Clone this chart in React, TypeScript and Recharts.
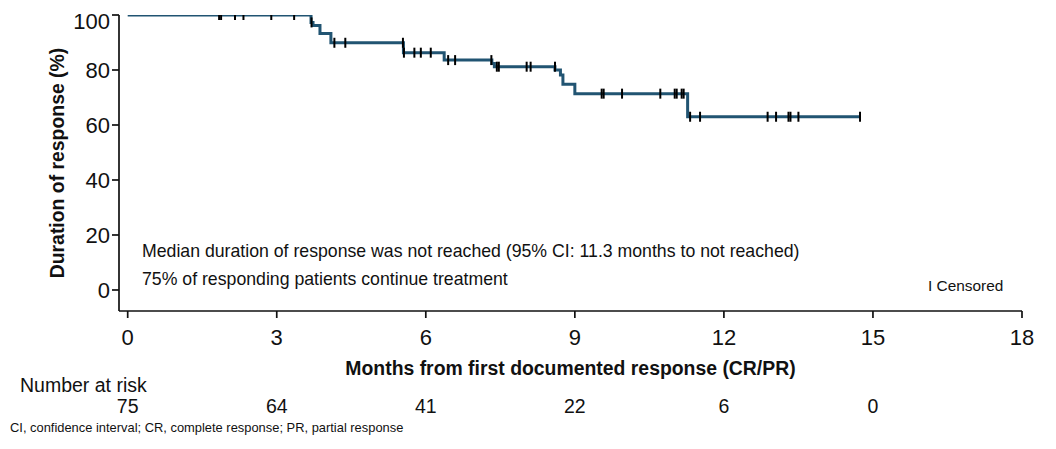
import React from 'react';
import { ComposedChart, Line, Scatter, XAxis, YAxis, Label } from 'recharts';

// Kaplan-Meier step points (months, % still in response)
const eventTimes = [0, 3.69, 3.73, 3.87, 4.09, 5.55, 6.37, 7.33, 7.38, 8.6, 8.71, 8.76, 9.0, 11.27, 14.74];
const survival = [100, 97.3, 96.2, 93.3, 89.9, 86.3, 83.6, 82.4, 81.2, 80.0, 78.2, 74.8, 71.4, 63.0, 63.0];

// censored observations
const censorTimes = [
  1.84, 1.88, 2.16, 2.33, 2.89, 3.35, 3.7, 4.16, 4.38, 5.54, 5.56, 5.77, 5.9, 6.1, 6.45, 6.59,
  7.32, 7.43, 7.47, 8.03, 8.11, 8.6, 9.54, 9.58, 9.95, 10.72, 11.01, 11.05, 11.15, 11.19,
  11.32, 11.52, 12.88, 13.05, 13.3, 13.34, 13.5, 14.74,
];
const censorValues = [
  100, 100, 100, 100, 100, 100, 97.3, 89.9, 89.9, 89.9, 86.3, 86.3, 86.3, 86.3, 83.6, 83.6,
  83.6, 81.2, 81.2, 81.2, 81.2, 81.2, 71.4, 71.4, 71.4, 71.4, 71.4, 71.4, 71.4, 71.4,
  63.0, 63.0, 63.0, 63.0, 63.0, 63.0, 63.0, 63.0,
];

const xTicks = [0, 3, 6, 9, 12, 15, 18];
const yTicks = [0, 20, 40, 60, 80, 100];
const riskTimes = [0, 3, 6, 9, 12, 15];
const riskCounts = [75, 64, 41, 22, 6, 0];

const curve = eventTimes.map((t, i) => ({ t, s: survival[i] }));
const censors = censorTimes.map((t, i) => ({ t, s: censorValues[i] }));

const FONT = '"Liberation Sans", Arial, sans-serif';
const LINE = '#215472';
const AXIS = '#111';

const CensorMark = (props: any) => {
  const { cx, cy } = props;
  return <line x1={cx} x2={cx} y1={cy - 5} y2={cy + 5} stroke="#000" strokeWidth={2} />;
};

export default function App() {
  return (
    <div style={{ position: 'relative', width: 1040, height: 441, fontFamily: FONT }}>
      <ComposedChart width={1040} height={441} margin={{ top: 7, right: 26, left: 0, bottom: 28 }}>
        <XAxis
          xAxisId="main"
          dataKey="t"
          type="number"
          domain={[-0.175, 18]}
          ticks={xTicks}
          allowDataOverflow
          height={70}
          tickSize={7}
          tickMargin={11}
          stroke={AXIS}
          strokeWidth={1.7}
          tick={{ fontSize: 22, fill: '#111', fontFamily: FONT }}
        >
          <Label
            content={(p: any) => {
              const { x, y, width } = p.viewBox;
              return (
                <text x={x + width / 2} y={y + 64} textAnchor="middle" fontSize={19.4} fontWeight="bold" fill="#111" fontFamily={FONT}>
                  Months from first documented response (CR/PR)
                </text>
              );
            }}
          />
        </XAxis>
        <XAxis
          xAxisId="risk"
          dataKey="t"
          type="number"
          domain={[-0.175, 18]}
          ticks={riskTimes}
          allowDataOverflow
          height={40}
          axisLine={false}
          tickLine={false}
          tickSize={0}
          tickMargin={18}
          tickFormatter={(v: number) => String(riskCounts[riskTimes.indexOf(v)])}
          tick={{ fontSize: 19.5, fill: '#111', fontFamily: FONT }}
        />
        <YAxis
          dataKey="s"
          type="number"
          domain={[-7.64, 100]}
          ticks={yTicks}
          allowDataOverflow
          width={111}
          tickSize={7}
          tickMargin={2}
          stroke={AXIS}
          strokeWidth={1.7}
          tick={{ fontSize: 22, fill: '#111', fontFamily: FONT }}
        >
          <Label
            content={(p: any) => {
              const { y, height } = p.viewBox;
              const cx = 49;
              const cy = y + height / 2;
              return (
                <text
                  x={cx}
                  y={cy}
                  transform={`rotate(-90 ${cx} ${cy})`}
                  textAnchor="middle"
                  dominantBaseline="central"
                  fontSize={19.4}
                  fontWeight="bold"
                  fill="#111"
                  fontFamily={FONT}
                >
                  Duration of response (%)
                </text>
              );
            }}
          />
        </YAxis>
        <Line
          xAxisId="main"
          data={curve}
          dataKey="s"
          type="stepAfter"
          stroke={LINE}
          strokeWidth={3}
          dot={false}
          isAnimationActive={false}
        />
        <Scatter
          xAxisId="main"
          data={censors}
          dataKey="s"
          shape={<CensorMark />}
          isAnimationActive={false}
        />
      </ComposedChart>
      <svg
        width={1040}
        height={441}
        style={{ position: 'absolute', left: 0, top: 0, pointerEvents: 'none' }}
        fontFamily={FONT}
      >
        <text x={134} y={249} fontSize={17.7} fill="#111">
          Median duration of response was not reached (95% CI: 11.3 months to not reached)
        </text>
        <text x={134} y={277} fontSize={17.7} fill="#111">
          75% of responding patients continue treatment
        </text>
        <text x={920} y={283} fontSize={15.4} fill="#111">
          I Censored
        </text>
        <text x={12} y={384} fontSize={19.5} fill="#111">
          Number at risk
        </text>
        <text x={2} y={424} fontSize={12.9} fill="#111">
          CI, confidence interval; CR, complete response; PR, partial response
        </text>
      </svg>
    </div>
  );
}
